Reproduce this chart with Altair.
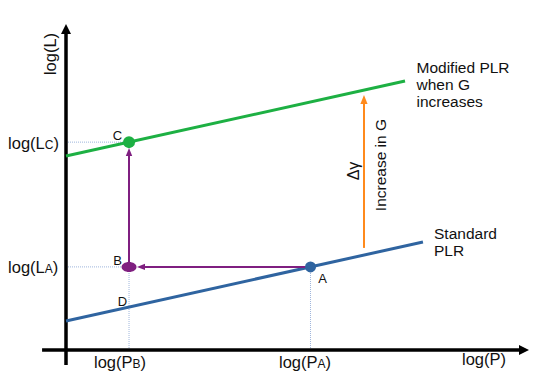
import altair as alt
import pandas as pd

# ---- diagram values (x = log P units, y = log L units) ----
XD = [-12.6087, 103.0435]
YD = [-9.0625, 106.875]

std_x = [0.0, 77.6]        # Standard PLR
std_y = [9.06, 33.75]
mod_x = [0.0, 73.7]        # Modified PLR when G increases
mod_y = [60.6, 84.06]

pt_names = ["A", "B", "C"]
pt_x = [53.15, 13.7, 13.7]
pt_y = [25.97, 25.97, 64.96]
d_y = 13.42                # point D on standard PLR

dg_low, dg_high = 31.9, 79.7   # Δγ arrow
dg_x = 64.78

BLUE = "#2f64a0"
GREEN = "#1db043"
PURPLE = "#7f1f80"
ORANGE = "#ff8a1c"
DOT = "#9fb6dc"
BLACK = "#000000"
FONT = "Liberation Sans"

xs = alt.Scale(domain=XD, nice=False, zero=False)
ys = alt.Scale(domain=YD, nice=False, zero=False)

# dotted guide lines
guides = pd.DataFrame({
    "x":  [0, 0, pt_x[1], pt_x[0]],
    "y":  [pt_y[2], pt_y[1], 0, 0],
    "x2": [pt_x[2], pt_x[1], pt_x[1], pt_x[0]],
    "y2": [pt_y[2], pt_y[1], pt_y[1], pt_y[0]],
})

# solid segments
segs = pd.DataFrame({
    "x":  [0, -5.2, std_x[0], mod_x[0], pt_x[0], pt_x[1], dg_x],
    "y":  [-4.7, 0, std_y[0], mod_y[0], pt_y[0], pt_y[1], dg_low],
    "x2": [0, 99.1, std_x[1], mod_x[1], 16.3, pt_x[1], dg_x],
    "y2": [100.0, 0, std_y[1], mod_y[1], pt_y[0], 61.9, 78.1],
    "c":  [BLACK, BLACK, BLUE, GREEN, PURPLE, PURPLE, ORANGE],
    "w":  [3.5, 3.5, 3, 3, 2, 2, 2],
})

UP = "M0,0L-1,2L1,2Z"
RIGHT = "M0,0L-2,-1L-2,1Z"
LEFT_S = "M0,0L2,-0.8L2,0.8Z"
UP_S = "M0,0L-0.8,2L0.8,2Z"
ELLIPSE = "M-1.5,0A1.5,1,0,1,1,1.5,0A1.5,1,0,1,1,-1.5,0Z"

heads = pd.DataFrame({
    "x": [0, 100.65, 15.43, pt_x[1], dg_x, pt_x[0], pt_x[1], pt_x[2]],
    "y": [101.875, 0, pt_y[0], 63.1, dg_high, pt_y[0], pt_y[1], pt_y[2]],
    "shape": [UP, RIGHT, LEFT_S, UP_S, UP_S, "circle", ELLIPSE, "circle"],
    "size": [100, 100, 64, 64, 81, 121, 100, 144],
    "c": [BLACK, BLACK, PURPLE, PURPLE, ORANGE, BLUE, PURPLE, GREEN],
})

# left-aligned text pieces (axis labels with small subscripts, notes)
tl = pd.DataFrame({
    "t": ["log(L", "C", ")", "log(L", "A", ")",
          "log(P", "B", ")", "log(P", "A", ")", "log(P)",
          "Modified PLR", "when G", "increases", "Standard", "PLR"],
    "x": [-12.6, -4.63, -2.74, -12.6, -4.63, -2.89,
          6.09, 14.46, 16.2, 46.3, 54.67, 56.41, 86.09,
          76.2, 76.2, 76.2, 80.0, 80.0],
    "y": [62.8, 62.8, 62.8, 24.06, 24.06, 24.06,
          -5.625, -5.625, -5.625, -5.625, -5.625, -5.625, -4.69,
          86.56, 81.25, 76.03, 34.69, 29.375],
    "s": [16.5, 12, 16.5, 16.5, 12, 16.5,
          16.5, 12, 16.5, 16.5, 12, 16.5, 16.5,
          15.5, 15.5, 15.5, 15.5, 15.5],
})

# point letters
tc = pd.DataFrame({
    "t": ["C", "B", "D", "A"],
    "x": [11.2, 11.2, 12.28, 55.76],
    "y": [65.6, 26.56, d_y + 0.33, 20.94],
})

# rotated texts
tr = pd.DataFrame({
    "t": ["log(L)", "Δγ", "Increase in G"],
    "x": [-3.26, 62.6, 68.48],
    "y": [92.5, 55.94, 57.8],
    "s": [16.5, 16, 15.5],
})

X = lambda f="x": alt.X(f"{f}:Q", scale=xs, axis=None)
Y = lambda f="y": alt.Y(f"{f}:Q", scale=ys, axis=None)

g = alt.Chart(guides).mark_rule(color=DOT, strokeWidth=1, strokeDash=[1, 1]).encode(
    x=X(), y=Y(), x2="x2:Q", y2="y2:Q")

s = alt.Chart(segs).mark_rule(strokeCap="butt").encode(
    x=X(), y=Y(), x2="x2:Q", y2="y2:Q",
    color=alt.Color("c:N", scale=None),
    strokeWidth=alt.StrokeWidth("w:Q", scale=None))

h = alt.Chart(heads).mark_point(filled=True, opacity=1, strokeWidth=0).encode(
    x=X(), y=Y(),
    shape=alt.Shape("shape:N", scale=None),
    size=alt.Size("size:Q", scale=None),
    color=alt.Color("c:N", scale=None))

t1 = alt.Chart(tl).mark_text(align="left", baseline="alphabetic", font=FONT, color="#111111").encode(
    x=X(), y=Y(), text="t:N", size=alt.Size("s:Q", scale=None))

t2 = alt.Chart(tc).mark_text(align="center", baseline="alphabetic", font=FONT, fontSize=13, color="#111111").encode(
    x=X(), y=Y(), text="t:N")

t3 = alt.Chart(tr).mark_text(align="center", baseline="middle", angle=270, font=FONT, color="#111111").encode(
    x=X(), y=Y(), text="t:N", size=alt.Size("s:Q", scale=None))

chart = alt.layer(g, s, h, t1, t2, t3).properties(
    width=532, height=371,
    autosize=alt.AutoSizeParams(type="none"),
    padding=0,
    background="white",
).configure_view(stroke=None)

chart.save("out.html", embed_options={"renderer": "svg", "actions": False})
